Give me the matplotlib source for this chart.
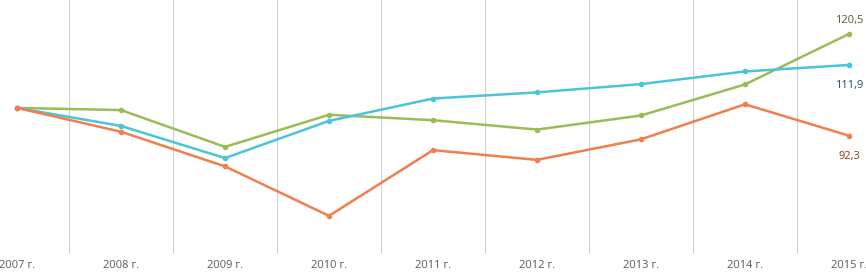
import matplotlib.pyplot as plt
import numpy as np

# Годы и значения (индекс, 2007 = 100)
years = ['2007 г.', '2008 г.', '2009 г.', '2010 г.', '2011 г.', '2012 г.', '2013 г.', '2014 г.', '2015 г.']
green = [100, 99.4, 89.2, 98.1, 96.6, 94.0, 97.9, 106.5, 120.5]
blue = [100, 95.0, 86.1, 96.4, 102.6, 104.3, 106.6, 110.1, 111.9]
red = [100, 93.4, 83.8, 70.1, 88.3, 85.6, 91.3, 101.0, 92.3]

plt.rcParams['font.family'] = ['Open Sans', 'DejaVu Sans']

fig = plt.figure(figsize=(8.66, 2.73), dpi=100)
ax = fig.add_axes([0, 1 - 253 / 273, 1, 253 / 273])

x = np.arange(len(years))
ax.plot(x, green, color='#9BBB59', lw=1.8, marker='o', ms=3, zorder=3)
ax.plot(x, blue, color='#4BC3D9', lw=1.8, marker='o', ms=3, zorder=3)
ax.plot(x, red, color='#F07E4E', lw=1.8, marker='o', ms=3, zorder=3)

# Подписи последних значений
ax.annotate(f'{green[-1]:.1f}'.replace('.', ','), (x[-1], green[-1]), xytext=(0, 10),
            textcoords='offset points', ha='center', va='center', fontsize=8, color='#4F6228')
ax.annotate(f'{blue[-1]:.1f}'.replace('.', ','), (x[-1], blue[-1]), xytext=(0, -15),
            textcoords='offset points', ha='center', va='center', fontsize=8, color='#1F4E79')
ax.annotate(f'{red[-1]:.1f}'.replace('.', ','), (x[-1], red[-1]), xytext=(0, -15),
            textcoords='offset points', ha='center', va='center', fontsize=8, color='#843C0C')

ax.set_xlim((0 - 17) / 104, (866 - 17) / 104)
ax.set_ylim(59.8, 129.9)
ax.set_xticks(x)
ax.set_xticklabels(years, fontsize=8, color='#595959')
ax.set_xticks(x[:-1] + 0.5, minor=True)
ax.grid(True, which='minor', axis='x', color='#D0D0D0', lw=0.8)
ax.tick_params(axis='x', which='both', length=0, pad=5)
ax.set_yticks([])
for s in ax.spines.values():
    s.set_visible(False)

fig.savefig('out.png', dpi=100)
